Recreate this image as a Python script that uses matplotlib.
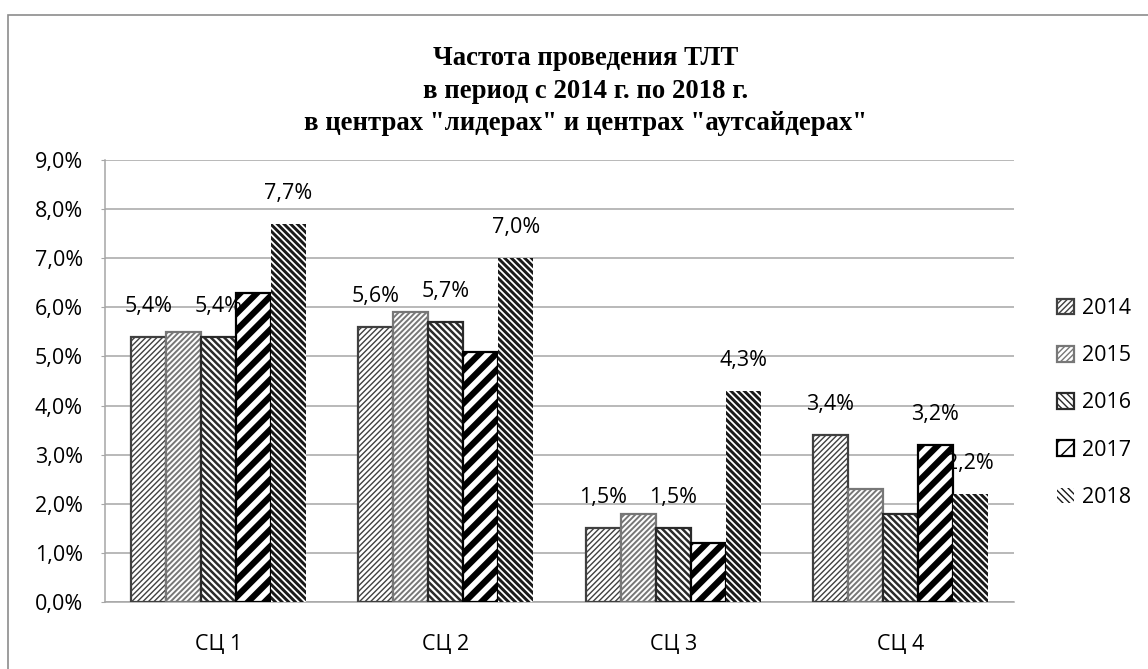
import matplotlib
matplotlib.use('Agg')
import matplotlib.pyplot as plt
from matplotlib.patches import Rectangle
from matplotlib.ticker import FuncFormatter, MultipleLocator
import numpy as np

# Data (percent)
centers = ['СЦ 1', 'СЦ 2', 'СЦ 3', 'СЦ 4']
years = ['2014', '2015', '2016', '2017', '2018']
v2014 = [5.4, 5.6, 1.5, 3.4]
v2015 = [5.5, 5.9, 1.8, 2.3]
v2016 = [5.4, 5.7, 1.5, 1.8]
v2017 = [6.3, 5.1, 1.2, 3.2]
v2018 = [7.7, 7.0, 4.3, 2.2]
series = [v2014, v2015, v2016, v2017, v2018]
# which series carry a value label in each group
labelled = [[0, 2, 4], [0, 2, 4], [0, 2, 4], [0, 3, 4]]

title = 'Частота проведения ТЛТ\nв период с 2014 г. по 2018 г.\nв центрах "лидерах" и центрах "аутсайдерах"'

# hatch style per series: hatch, hatch colour, hatch width, edge width
styles = [
    ('//////', '#404040', 1.0, 1.6),
    ('//////', '#777777', 1.4, 1.6),
    ('\\\\\\\\\\', '#2a2a2a', 1.8, 1.6),
    ('//', '#000000', 4.5, 1.6),
    ('\\\\\\\\\\', '#181818', 2.1, 0.0),
]

plt.rcParams['font.family'] = ['Open Sans', 'DejaVu Sans']
fs = 15.5

fig = plt.figure(figsize=(11.48, 6.69), dpi=100)
ax = fig.add_axes([105 / 1148, 67 / 669, 909 / 1148, 442 / 669])

x = np.arange(len(centers))
w = 1 / 6.5
bars = []
for i, vals in enumerate(series):
    h, col, hlw, elw = styles[i]
    with plt.rc_context({'hatch.linewidth': hlw}):
        b = ax.bar(x + (i - 2) * w, vals, width=w, color='white', edgecolor=col,
                   hatch=h, linewidth=elw, label=years[i], zorder=3)
    bars.append(b)

for g in range(len(centers)):
    for i in labelled[g]:
        r = bars[i][g]
        ax.annotate(f'{series[i][g]:.1f}%'.replace('.', ','),
                    (r.get_x() + r.get_width() / 2, r.get_height()),
                    xytext=(0, 22), textcoords='offset points',
                    ha='center', va='center', fontsize=fs, zorder=4)

ax.set_ylim(0, 9)
ax.set_xlim(-0.5, 3.5)
ax.yaxis.set_major_locator(MultipleLocator(1))
ax.yaxis.set_major_formatter(FuncFormatter(lambda v, p: f'{v:.1f}%'.replace('.', ',')))
ax.set_xticks(x)
ax.set_xticklabels(centers)
ax.grid(axis='y', color='#a6a6a6', linewidth=1.1, zorder=0)
for s in ['top', 'right']:
    ax.spines[s].set_visible(False)
ax.spines['left'].set_color('#a6a6a6')
ax.spines['bottom'].set_color('#a6a6a6')
ax.spines['left'].set_linewidth(1.1)
ax.spines['bottom'].set_linewidth(1.1)
ax.tick_params(axis='y', length=3, color='#a6a6a6', pad=13, labelsize=fs)
ax.tick_params(axis='x', length=0, pad=23, labelsize=fs)

leg = fig.legend(loc='center left', bbox_to_anchor=(1038 / 1148, (669 - 403) / 669),
                 frameon=False, fontsize=fs, handlelength=0.75, handleheight=0.75,
                 handletextpad=0.4, labelspacing=1.22)

fig.text(586 / 1148, (669 - 91) / 669, title, ha='center', va='center',
         family='Liberation Serif', fontweight='bold', fontsize=19.3, linespacing=1.4)

# outer chart border
fig.patches.append(Rectangle((8 / 1148, -0.1), 1.2, (669 - 15) / 669 + 0.1,
                             transform=fig.transFigure, fill=False,
                             edgecolor='#8c8c8c', linewidth=1.2))

fig.savefig('out.png', dpi=100)
